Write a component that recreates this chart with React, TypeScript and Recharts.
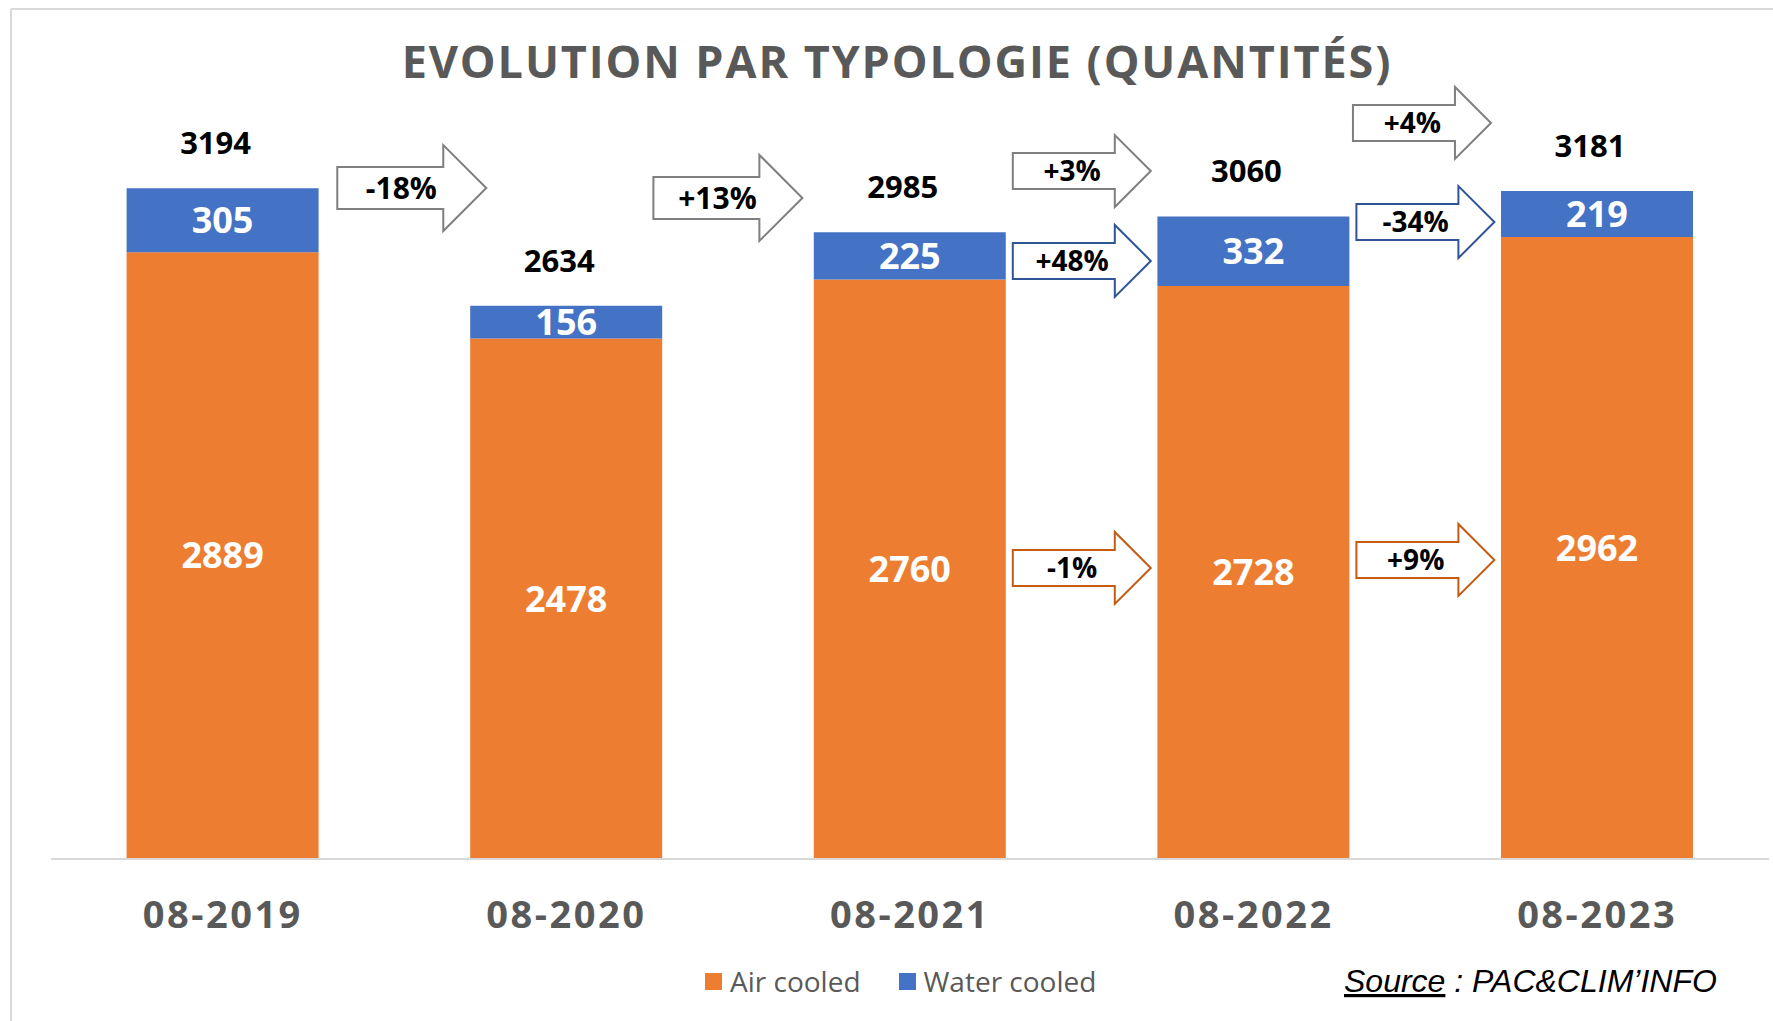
import { BarChart, Bar, XAxis, YAxis, LabelList, Legend, ReferenceDot } from "recharts";

const periodes = ["08-2019", "08-2020", "08-2021", "08-2022", "08-2023"];
const airCooled = [2889, 2478, 2760, 2728, 2962];
const waterCooled = [305, 156, 225, 332, 219];
const totaux = [3194, 2634, 2985, 3060, 3181];

// flèches d'évolution : position entre deux périodes (index) et niveau en quantité
const fleches = [
  { label: "-18%", serie: "total", at: 0.55, niveau: 3195, grande: true },
  { label: "+13%", serie: "total", at: 1.47, niveau: 3148, grande: true },
  { label: "+3%", serie: "total", at: 2.5, niveau: 3276, grande: false },
  { label: "+4%", serie: "total", at: 3.49, niveau: 3505, grande: false },
  { label: "+48%", serie: "water", at: 2.5, niveau: 2848, grande: false },
  { label: "-34%", serie: "water", at: 3.5, niveau: 3033, grande: false },
  { label: "-1%", serie: "air", at: 2.5, niveau: 1386, grande: false },
  { label: "+9%", serie: "air", at: 3.5, niveau: 1424, grande: false },
];

const data = periodes.map((p, i) => ({ periode: p, air: airCooled[i], water: waterCooled[i], total: totaux[i] }));

const W = 1773;
const H = 1021;
const MARGIN = { top: 124, right: 4, left: 51, bottom: 102 };
const BANDE = (W - MARGIN.left - MARGIN.right) / periodes.length;

const FONT = "'Open Sans', 'Noto Sans', sans-serif";
const ORANGE = "#ed7d31";
const BLEU = "#4472c4";
const GRIS = "#595959";
const contours: Record<string, string> = { total: "#7f7f7f", water: "#2f5597", air: "#c55a11" };

function Fleche({ cx, cy, label, grande, stroke }: any) {
  const w = grande ? 149 : 138;
  const hl = grande ? 43 : 36;
  const bh = grande ? 42 : 36;
  const hh = grande ? 86 : 72;
  const fs = grande ? 30 : 28;
  const x0 = cx - w / 2;
  const xh = x0 + w - hl;
  const xt = x0 + w;
  const pts = [
    [x0, cy - bh / 2],
    [xh, cy - bh / 2],
    [xh, cy - hh / 2],
    [xt, cy],
    [xh, cy + hh / 2],
    [xh, cy + bh / 2],
    [x0, cy + bh / 2],
  ]
    .map((p) => p.join(","))
    .join(" ");
  return (
    <g>
      <polygon points={pts} fill="#fff" stroke={stroke} strokeWidth={2} strokeLinejoin="miter" />
      <text x={x0 + 0.43 * w} y={cy + 0.36 * fs} textAnchor="middle" fontFamily={FONT} fontWeight={700} fontSize={fs} fill="#000">
        {label}
      </text>
    </g>
  );
}

function TotalLabel(props: any) {
  const { x, y, width, value } = props;
  return (
    <text x={Number(x) + Number(width) / 2 - 7} y={Number(y) - 45 + 11} textAnchor="middle" fontFamily={FONT} fontWeight={700} fontSize={31} fill="#000">
      {value}
    </text>
  );
}

function Legende({ payload }: any) {
  return (
    <div style={{ display: "flex", alignItems: "center", fontFamily: FONT, fontSize: 28, color: GRIS, lineHeight: "38px" }}>
      {(payload || []).map((item: any, i: number) => (
        <div key={i} style={{ display: "flex", alignItems: "center", marginRight: 38 }}>
          <span style={{ width: 17, height: 17, background: item.color, display: "inline-block", marginRight: 8 }} />
          <span>{item.value}</span>
        </div>
      ))}
    </div>
  );
}

const segLabel = { fill: "#fff", fontSize: 36, fontWeight: 700, fontFamily: FONT };

export default function App() {
  return (
    <div style={{ position: "absolute", left: 0, top: 0, width: W, height: H, background: "#fff" }}>
      <BarChart width={W} height={H} data={data} margin={MARGIN} barCategoryGap="22%">
        <XAxis
          dataKey="periode"
          height={60}
          tickLine={false}
          tickSize={0}
          tickMargin={42}
          axisLine={{ stroke: "#d9d9d9", strokeWidth: 2 }}
          tick={{ fontSize: 38, fontWeight: 700, fill: GRIS, fontFamily: FONT, letterSpacing: 2.5 }}
        />
        <YAxis hide domain={[0, 3500]} />
        <Legend
          layout="horizontal"
          verticalAlign="middle"
          align="center"
          wrapperStyle={{ left: 705, top: 962, width: 500 }}
          content={<Legende />}
        />
        <Bar dataKey="air" name="Air cooled" stackId="a" fill={ORANGE} isAnimationActive={false}>
          <LabelList dataKey="air" position="center" style={segLabel} />
        </Bar>
        <Bar dataKey="water" name="Water cooled" stackId="a" fill={BLEU} isAnimationActive={false}>
          <LabelList dataKey="water" position="center" style={segLabel} />
          <LabelList dataKey="total" content={<TotalLabel />} />
        </Bar>
        {fleches.map((f, i) => {
          const base = Math.floor(f.at);
          const decal = (f.at - base) * BANDE;
          return (
            <ReferenceDot
              key={i}
              x={periodes[base]}
              y={f.niveau}
              ifOverflow="visible"
              shape={(p: any) => <Fleche cx={p.cx + decal} cy={p.cy} label={f.label} grande={f.grande} stroke={contours[f.serie]} />}
            />
          );
        })}
      </BarChart>
      <svg width={W} height={H} style={{ position: "absolute", left: 0, top: 0, pointerEvents: "none" }}>
        <line x1={11} y1={9} x2={W} y2={9} stroke="#d9d9d9" strokeWidth={2} />
        <line x1={11} y1={9} x2={11} y2={H} stroke="#d9d9d9" strokeWidth={2} />
        <text x={897} y={78} textAnchor="middle" fontFamily={FONT} fontWeight={700} fontSize={45} fill={GRIS} letterSpacing={1.9}>
          EVOLUTION PAR TYPOLOGIE (QUANTITÉS)
        </text>
        <text x={1344} y={992} fontFamily="'Liberation Sans', Arial, sans-serif" fontStyle="italic" fontSize={32} fill="#000">
          <tspan textDecoration="underline">Source</tspan>
          <tspan> : PAC&amp;CLIM’INFO</tspan>
        </text>
      </svg>
    </div>
  );
}
